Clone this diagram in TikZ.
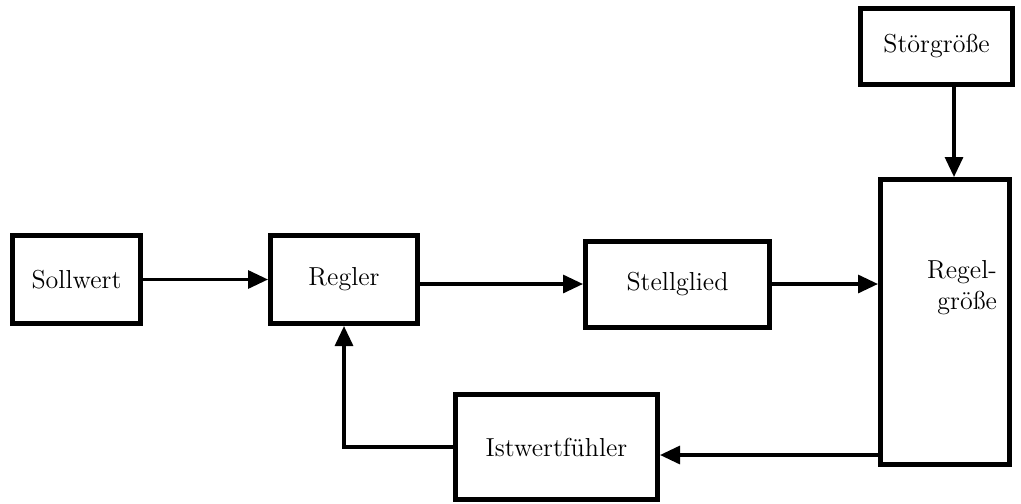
\documentclass[tikz,border=0pt]{standalone}
\usetikzlibrary{arrows.meta}
\begin{document}
\begin{tikzpicture}[x=0.5pt,y=-0.5pt,
  box/.style={draw=black,line width=2.5pt,fill=white,inner sep=0pt,font=\fontsize{13}{15.5}\selectfont},
  arr/.style={line width=1.6pt,-{Triangle[length=10pt,width=9pt]}},
  lbl/.style={font=\fontsize{13}{15.5}\selectfont,inner sep=0pt}]
\useasboundingbox (0,0) rectangle (1021,503);
\node[box,minimum width=64pt,minimum height=44pt] (soll) at (76.5,279.5) {Sollwert};
\node[box,minimum width=73.5pt,minimum height=44pt] (regler) at (344,279.5) {Regler};
\node[box,minimum width=92pt,minimum height=43pt] (stell) at (677.5,284) {Stellglied};
\node[box,minimum width=76pt,minimum height=38pt] (stoer) at (936.5,46) {Störgröße};
\node[box,minimum width=64.5pt,minimum height=142.5pt] (regel) at (945,322) {};
\node[lbl,align=right] (regeltext) at (962,288) {Regel-\\größe};
\node[box,minimum width=101pt,minimum height=52.5pt] (ist) at (556.5,447) {Istwertfühler};
\coordinate (sin) at ([xshift=4.5pt]regel.north);
\draw[arr] (soll.east) -- (regler.west);
\draw[arr] (regler.east |- stell.west) -- (stell.west);
\draw[arr] (stell.east) -- (stell.east -| regel.west);
\draw[arr] (stoer.south -| sin) -- (sin);
\draw[arr] ([yshift=-4pt]ist.east -| regel.west) -- ([yshift=-4pt]ist.east);
\draw[arr] (ist.west) -| (regler.south);
\end{tikzpicture}
\end{document}
